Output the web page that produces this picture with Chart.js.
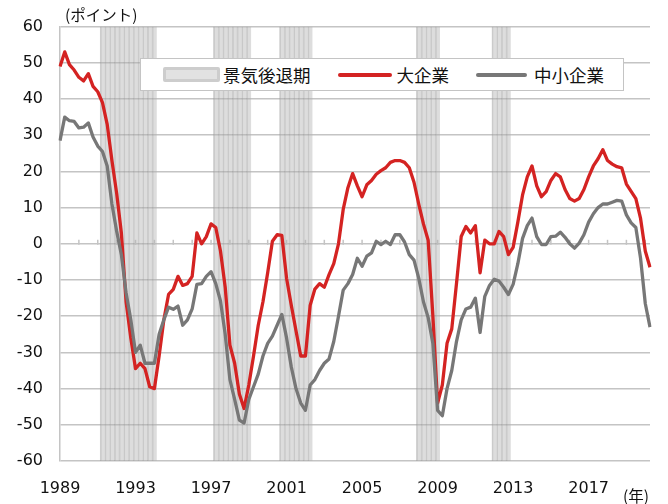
<!DOCTYPE html>
<html lang="ja">
<head>
  <meta charset="UTF-8" />
  <title>業況判断DI 大企業・中小企業</title>
  <script src="https://cdn.jsdelivr.net/npm/chart.js"></script>
  <style>
    html, body {
      margin: 0;
      padding: 0;
      background: #fff;
    }

    #marco {
      position: relative;
      width: 668px;
      height: 504px;
      font-family: "Noto Sans CJK JP", sans-serif;
      color: #111;
    }

    #grafico {
      position: absolute;
      left: 0;
      top: 0;
    }

    .nota {
      position: absolute;
      font-size: 15.5px;
      line-height: 1;
      white-space: nowrap;
    }

    #leyenda {
      position: absolute;
      left: 140px;
      top: 58px;
      width: 484px;
      height: 33px;
      box-sizing: border-box;
      border: 1.5px solid #c4c4c4;
      background: #fff;
      display: flex;
      align-items: center;
      padding-left: 22px;
      font-size: 17.5px;
      white-space: nowrap;
    }

    .simbolo-barra {
      width: 51px;
      height: 9px;
      border: 3px solid #cdcdcd;
      border-radius: 2px;
      background: #e2e2e2;
      margin-right: 3px;
    }

    .simbolo-linea {
      height: 4px;
      border-radius: 2px;
      margin-right: 5px;
    }
  </style>
</head>
<body>

  <div id="marco">
    <canvas id="grafico" width="668" height="504"></canvas>
    <div class="nota" style="left:65px; top:7px;">(ポイント)</div>
    <div class="nota" style="left:623px; top:488px;">(年)</div>
    <div id="leyenda"></div>
  </div>

  <script>
    // 大企業・中小企業の業況判断DI(四半期、1989年1-3月期〜2020年4-6月期)
    const largeDI = [
      49, 53, 49.5, 48, 46, 45, 47, 43.5, 42, 39,
      33, 23, 14, 3, -16, -26, -34.5, -33, -34.5, -39.5,
      -40, -31, -21, -14, -12.6, -9, -11.5, -11, -9, 3,
      0, 2, 5.5, 4.5, -2, -12, -28, -33, -41.5, -45.5,
      -39, -31, -22.5, -16, -8, 0.7, 2.5, 2.3, -9.5, -17,
      -24, -31, -31, -17, -12.5, -11, -12, -8.5, -5.5, 0,
      9.5, 15.5, 19.4, 16, 13, 16.3, 17.5, 19.2, 20.2, 21,
      22.5, 23, 23, 22.5, 21, 17, 11, 5.5, 1, -20,
      -44, -39, -27.5, -23.5, -11, 2, 4.8, 3, 5, -8,
      1, 0, 0, 3.4, 2, -3, -1, 6, 13.5, 18.5,
      21.5, 16, 13, 14.4, 17.5, 19.4, 18.5, 15, 12.5, 11.8,
      12.5, 15, 18.5, 21.5, 23.5, 26, 23, 22, 21.3, 21,
      16.5, 14.5, 12.5, 7, -2, -6.5
    ];

    const smallDI = [
      28.5, 35, 34, 33.8, 32, 32.2, 33.4, 29.5, 27, 25.5,
      21.5, 11, 3.5, -3, -13.5, -21, -30, -28, -33, -33,
      -33, -25, -21, -17.5, -18.1, -17.2, -22.5, -21, -18, -11.2,
      -11, -9, -7.7, -11, -15.8, -25, -37.5, -43, -48.7, -49.5,
      -43, -39.5, -36, -31, -27.5, -25.5, -22.5, -19.5, -26, -34,
      -40, -44, -46, -39, -37.5, -35, -33, -31.8, -27, -20,
      -12.8, -11, -8.5, -4, -6.2, -3.4, -2.5, 0.7, -0.2, 0.7,
      -0.2, 2.5, 2.5, 0.5, -3, -4.5, -9.5, -16, -20.4, -27.5,
      -46, -47.5, -40, -35, -27, -21, -18, -17.5, -15, -24.5,
      -14.5, -11.5, -9.8, -10.3, -12, -14, -11.2, -5.5, 1.5, 5,
      7.1, 2, -0.2, -0.2, 2, 2.1, 3.2, 1.8, 0, -1.2,
      0.2, 2.5, 6, 8.3, 10, 11, 11, 11.5, 12, 11.8,
      8, 5.8, 4.5, -4, -16.5, -23
    ];

    // 景気後退期(四半期の始まりと終わり)
    const recessions = [
      ["1991Q2", "1994Q1"],
      ["1997Q2", "1999Q1"],
      ["2000Q4", "2002Q2"],
      ["2008Q1", "2009Q1"],
      ["2012Q1", "2012Q4"]
    ];

    const tickYears = ["1989", "1993", "1997", "2001", "2005", "2009", "2013", "2017"];

    const yMin = -60;
    const yMax = 60;

    // 四半期ラベル
    const quarters = [];
    for (let y = 1989; quarters.length < largeDI.length; y++) {
      for (let q = 1; q <= 4 && quarters.length < largeDI.length; q++) {
        quarters.push(y + "Q" + q);
      }
    }

    const recessionBars = quarters.map((q) => {
      const dentro = recessions.some(([ini, fin]) => q >= ini && q <= fin);
      return dentro ? [yMin, yMax] : null;
    });

    const gridColor = "#c4c4c4";

    // 0の線の上の年ごとの目盛り
    const zeroTicks = {
      id: "zeroTicks",
      beforeDatasetsDraw(chart) {
        const x = chart.scales.x;
        const y0 = chart.scales.y.getPixelForValue(0);
        const ctx = chart.ctx;
        ctx.save();
        ctx.strokeStyle = gridColor;
        ctx.lineWidth = 1.5;
        quarters.forEach((q, i) => {
          if (i > 0 && q.endsWith("Q1")) {
            const px = x.getPixelForValue(i);
            ctx.beginPath();
            ctx.moveTo(px, y0 - 4);
            ctx.lineTo(px, y0 + 1);
            ctx.stroke();
          }
        });
        ctx.restore();
      }
    };

    const ctx = document.getElementById("grafico").getContext("2d");

    const grafico = new Chart(ctx, {
      type: "bar",
      data: {
        labels: quarters,
        datasets: [
          {
            type: "bar",
            label: "景気後退期",
            data: recessionBars,
            backgroundColor: "rgba(180, 180, 180, 0.45)",
            borderColor: "rgba(150, 150, 150, 0.45)",
            borderWidth: { left: 1, right: 0, top: 0, bottom: 0 },
            borderSkipped: false,
            barPercentage: 1,
            categoryPercentage: 1,
            order: 3
          },
          {
            type: "line",
            label: "大企業",
            data: largeDI,
            borderColor: "#d42322",
            borderWidth: 3.3,
            borderJoinStyle: "round",
            pointRadius: 0,
            tension: 0,
            fill: false,
            order: 2
          },
          {
            type: "line",
            label: "中小企業",
            data: smallDI,
            borderColor: "#777777",
            borderWidth: 3.3,
            borderJoinStyle: "round",
            pointRadius: 0,
            tension: 0,
            fill: false,
            order: 1
          }
        ]
      },
      options: {
        responsive: false,
        animation: false,
        layout: {
          padding: { top: 24, right: 15, left: 0, bottom: 0 }
        },
        plugins: {
          legend: { display: false },
          tooltip: { enabled: false }
        },
        scales: {
          x: {
            offset: false,
            grid: { display: false, drawTicks: false },
            border: { display: false },
            ticks: {
              autoSkip: false,
              maxRotation: 0,
              padding: 18,
              color: "#111",
              font: { family: "DejaVu Sans", size: 16 },
              callback: function (value, index) {
                const q = quarters[index];
                const year = q.slice(0, 4);
                return q.endsWith("Q1") && tickYears.includes(year) ? year : "";
              }
            },
            afterFit: function (scale) {
              scale.height = 43;
            }
          },
          y: {
            min: yMin,
            max: yMax,
            grid: {
              color: gridColor,
              lineWidth: 1.5,
              drawTicks: false
            },
            border: { display: true, color: gridColor, width: 1.5 },
            ticks: {
              stepSize: 10,
              padding: 17,
              color: "#111",
              font: { family: "DejaVu Sans", size: 16 }
            },
            afterFit: function (scale) {
              scale.width = 60;
            }
          }
        }
      },
      plugins: [zeroTicks]
    });

    // 凡例(枠付き)
    function armarLeyenda() {
      const caja = document.getElementById("leyenda");
      grafico.data.datasets.forEach((ds, i) => {
        const sim = document.createElement("div");
        if (ds.type === "bar") {
          sim.className = "simbolo-barra";
        } else {
          sim.className = "simbolo-linea";
          sim.style.background = ds.borderColor;
          sim.style.width = i === 1 ? "54px" : "51px";
          sim.style.marginLeft = "27px";
          sim.style.marginRight = i === 1 ? "5px" : "7px";
        }
        const txt = document.createElement("span");
        txt.textContent = ds.label;
        caja.appendChild(sim);
        caja.appendChild(txt);
      });
    }

    armarLeyenda();
  </script>

</body>
</html>
